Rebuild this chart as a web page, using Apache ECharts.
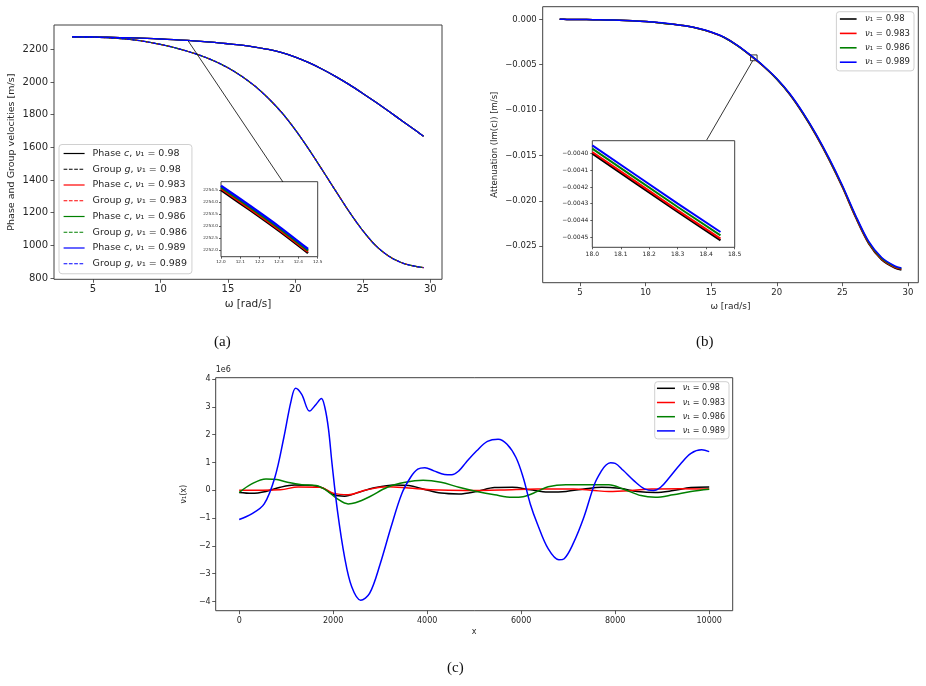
<!DOCTYPE html>
<html>
<head>
<meta charset="utf-8">
<script src="https://cdn.jsdelivr.net/npm/echarts@6/dist/echarts.min.js"></script>
<style>
  html, body { margin: 0; padding: 0; background: #fff; }
  #chart { width: 926px; height: 686px; }
</style>
</head>
<body>
<div id="chart"></div>
<script>
// (a) phase / group velocity vs omega (the four nu curves coincide at this scale)
var omega = [3.45, 4, 5, 6, 7, 8, 9, 10, 11, 12, 13, 14, 15, 16, 17, 18, 19, 20, 21, 22, 23, 24, 25, 26, 27, 28, 29, 29.5];
var phaseC = [2277, 2276.5, 2275.5, 2274, 2272, 2269.5, 2266.5, 2263, 2259, 2254.5, 2249, 2242, 2234, 2225, 2213, 2199, 2179, 2152, 2118, 2078, 2033, 1984, 1930, 1874, 1816, 1757, 1698, 1668];
var groupG = [2276, 2275.5, 2274, 2271, 2266, 2258, 2246, 2230, 2211, 2188, 2161, 2128, 2087, 2036, 1975, 1900, 1812, 1707, 1588, 1461, 1332, 1205, 1090, 995, 930, 890, 870, 864];

// (a) inset, zoom on phase c near omega = 12
var omegaInsetA = [12.0, 12.15, 12.3, 12.45];
var phaseInset98 = [2254.50, 2253.66, 2252.79, 2251.86];
var phaseInset983 = [2254.56, 2253.72, 2252.85, 2251.92];
var phaseInset986 = [2254.62, 2253.78, 2252.91, 2251.97];
var phaseInset989 = [2254.68, 2253.84, 2252.97, 2252.03];

// (b) attenuation Im(c)
var att98 = [0, -0.00001, -0.00002, -0.00004, -0.00007, -0.00011, -0.00017, -0.00025, -0.00037, -0.00053, -0.00072, -0.00100, -0.00142, -0.0020, -0.0029, -0.0040, -0.0052, -0.0066, -0.0083, -0.0104, -0.0128, -0.0155, -0.0185, -0.0218, -0.0247, -0.0265, -0.0274, -0.0276];
var att983 = [0, -0.00001, -0.00002, -0.00004, -0.00007, -0.00011, -0.00017, -0.00025, -0.00037, -0.00053, -0.00072, -0.00100, -0.00142, -0.0020, -0.0029, -0.00399, -0.00519, -0.00658, -0.00827, -0.01036, -0.01275, -0.01545, -0.01843, -0.02172, -0.02461, -0.02641, -0.02731, -0.02751];
var att986 = [0, -0.00001, -0.00002, -0.00004, -0.00007, -0.00011, -0.00017, -0.00025, -0.00037, -0.00053, -0.00072, -0.00100, -0.00141, -0.0020, -0.0029, -0.00398, -0.00517, -0.00656, -0.00824, -0.01032, -0.0127, -0.01539, -0.01836, -0.02164, -0.02453, -0.02633, -0.02724, -0.02745];
var att989 = [0, -0.00001, -0.00002, -0.00004, -0.00007, -0.00011, -0.00017, -0.00025, -0.00036, -0.00052, -0.00071, -0.00099, -0.00140, -0.00198, -0.00287, -0.00395, -0.00514, -0.00652, -0.0082, -0.01027, -0.01264, -0.01532, -0.01828, -0.02155, -0.02444, -0.02624, -0.02717, -0.0274];

// (b) inset, zoom near omega = 18
var omegaInsetB = [18.0, 18.15, 18.3, 18.45];
var attInset98 = [-0.00400, -0.004175, -0.00435, -0.00452];
var attInset983 = [-0.00399, -0.004165, -0.00434, -0.00451];
var attInset986 = [-0.00397, -0.004145, -0.00432, -0.00449];
var attInset989 = [-0.00395, -0.004125, -0.00430, -0.00447];

// (c) nu_1(x), values in units of 1e6
var nuX98 = [[0,-0.08],[266,-0.11],[570,-0.04],[874,0.11],[1178,0.19],[1558,0.17],[1786,0.08],[2014,-0.16],[2242,-0.21],[2546,-0.07],[2850,0.08],[3305,0.19],[3609,0.17],[3913,0.05],[4293,-0.10],[4673,-0.13],[5053,-0.04],[5433,0.10],[5813,0.11],[6193,0.02],[6573,-0.06],[6953,-0.04],[7333,0.05],[7713,0.11],[8093,0.07],[8473,-0.04],[8853,-0.08],[9233,-0.01],[9612,0.10],[10000,0.12]];
var nuX983 = [[0,0],[874,0.02],[1254,0.12],[1710,0.11],[2014,-0.11],[2318,-0.16],[2698,0.01],[3153,0.13],[3609,0.08],[4065,0.02],[4825,-0.01],[5585,0.01],[6345,0.05],[7105,0.05],[7561,-0.01],[7865,-0.04],[8321,-0.01],[8777,0.05],[9385,0.06],[10000,0.05]];
var nuX986 = [[0,-0.08],[266,0.23],[570,0.41],[798,0.39],[1026,0.29],[1330,0.2],[1634,0.17],[1862,-0.01],[2090,-0.31],[2318,-0.49],[2470,-0.45],[2774,-0.23],[3153,0.11],[3533,0.29],[3913,0.36],[4293,0.29],[4673,0.11],[5053,-0.04],[5433,-0.16],[5813,-0.25],[6041,-0.23],[6345,-0.04],[6573,0.13],[6953,0.2],[7333,0.2],[7865,0.2],[8169,0.05],[8549,-0.19],[8853,-0.25],[9233,-0.16],[9612,-0.04],[10000,0.04]];
var nuX989 = [[0,-1.05],[266,-0.85],[532,-0.49],[760,0.47],[950,1.9],[1102,3.2],[1200,3.67],[1330,3.45],[1497,2.85],[1634,3.09],[1748,3.3],[1824,2.97],[1900,2.2],[1976,0.94],[2090,-0.73],[2242,-2.4],[2394,-3.47],[2584,-3.95],[2774,-3.71],[3001,-2.64],[3229,-1.33],[3457,-0.13],[3647,0.47],[3799,0.76],[3951,0.81],[4141,0.70],[4369,0.57],[4521,0.56],[4673,0.70],[4825,1.0],[5053,1.42],[5281,1.76],[5509,1.84],[5699,1.66],[5889,1.18],[6041,0.47],[6193,-0.49],[6345,-1.21],[6573,-2.1],[6801,-2.5],[6915,-2.46],[7105,-1.92],[7333,-0.97],[7561,0.23],[7700,0.68],[7800,0.9],[7900,0.99],[8000,0.97],[8169,0.72],[8396,0.35],[8624,0.05],[8815,-0.01],[8967,0.11],[9157,0.47],[9385,0.94],[9612,1.33],[9840,1.46],[10000,1.39]];

// tick labels
var ticksA_x = [5, 10, 15, 20, 25, 30];
var ticksA_y = [800, 1000, 1200, 1400, 1600, 1800, 2000, 2200];
var ticksAi_x = [12.0, 12.1, 12.2, 12.3, 12.4, 12.5];
var ticksAi_y = [2252.0, 2252.5, 2253.0, 2253.5, 2254.0, 2254.5];
var ticksB_x = [5, 10, 15, 20, 25, 30];
var ticksB_y = [-0.025, -0.020, -0.015, -0.010, -0.005, 0];
var ticksBi_x = [18.0, 18.1, 18.2, 18.3, 18.4, 18.5];
var ticksBi_y = [-0.0045, -0.0044, -0.0043, -0.0042, -0.0041, -0.0040];
var ticksC_x = [0, 2000, 4000, 6000, 8000, 10000];
var ticksC_y = [-4, -3, -2, -1, 0, 1, 2, 3, 4];

var nus = ["0.98", "0.983", "0.986", "0.989"];
var colors = ["#000000", "#ff0000", "#008000", "#0000ff"];

var chart = echarts.init(document.getElementById("chart"), null, { renderer: "canvas" });

function zip(xs, ys) {
    return xs.map(function (x, i) { return [x, ys[i]]; });
}
function minus(s) {
    return String(s).replace("-", "\u2212");
}

function axis(gridIndex, min, max, ticks, decimals, fontSize, margin, extra) {
    var ax = {
        type: "value",
        gridIndex: gridIndex,
        min: min,
        max: max,
        splitLine: { show: false },
        axisLine: { show: false, onZero: false },
        axisTick: {
            show: true,
            length: fontSize < 7 ? 2 : 3.5,
            lineStyle: { color: "#333", width: 0.8 },
            customValues: ticks
        },
        axisLabel: {
            customValues: ticks,
            fontSize: fontSize,
            color: "#262626",
            fontFamily: "DejaVu Sans",
            margin: margin,
            formatter: function (v) { return minus(v.toFixed(decimals)); }
        }
    };
    return Object.assign(ax, extra || {});
}

function nameStyle(size) {
    return { fontSize: size, color: "#262626", fontFamily: "DejaVu Sans" };
}

function richLegend(size) {
    return {
        t: { fontFamily: "DejaVu Sans", color: "#262626", fontSize: size },
        i: { fontFamily: "DejaVu Sans", fontStyle: "italic", color: "#262626", fontSize: size }
    };
}

var series = [];
var namesA = [];
nus.forEach(function (nu, k) {
    var pn = "Phase c, \u03bd\u2081 = " + nu;
    var gn = "Group g, \u03bd\u2081 = " + nu;
    namesA.push(pn, gn);
    series.push({
        name: pn, type: "line", xAxisIndex: 0, yAxisIndex: 0,
        data: zip(omega, phaseC), smooth: 0.3, symbol: "none",
        lineStyle: { color: colors[k], width: 1.3 }, itemStyle: { color: colors[k] }
    });
    series.push({
        name: gn, type: "line", xAxisIndex: 0, yAxisIndex: 0,
        data: zip(omega, groupG), smooth: 0.3, symbol: "none",
        lineStyle: { color: colors[k], width: 1.2, type: [3.7, 1.6], dashOffset: k * 1.3 },
        itemStyle: { color: colors[k] }
    });
});
// arrow from inset to the zoomed spot on panel (a)
series[0].markLine = {
    silent: true, symbol: ["none", "arrow"], symbolSize: [0, 6],
    label: { show: false },
    lineStyle: { color: "#000", width: 0.8, type: "solid" },
    data: [[{ coord: [19.08, 1388] }, { coord: [12.05, 2252] }]]
};

var insetA = [phaseInset98, phaseInset983, phaseInset986, phaseInset989];
insetA.forEach(function (arr, k) {
    series.push({
        name: "inset a " + nus[k], type: "line", xAxisIndex: 1, yAxisIndex: 1,
        data: zip(omegaInsetA, arr), smooth: 0.3, symbol: "none",
        lineStyle: { color: colors[k], width: 2.4 }, itemStyle: { color: colors[k] }
    });
});

var namesB = nus.map(function (nu) { return "\u03bd\u2081 = " + nu; });
var attB = [att98, att983, att986, att989];
attB.forEach(function (arr, k) {
    series.push({
        name: namesB[k], type: "line", xAxisIndex: 2, yAxisIndex: 2,
        data: zip(omega, arr), smooth: 0.3, symbol: "none",
        lineStyle: { color: colors[k], width: 1.5 }, itemStyle: { color: colors[k] }
    });
});
var firstB = series.length - 4;
series[firstB].markArea = {
    silent: true,
    itemStyle: { color: "rgba(0,0,0,0)", borderColor: "#000", borderWidth: 0.8 },
    data: [[{ coord: [18.0, -0.00392] }, { coord: [18.5, -0.00456] }]]
};
series[firstB].markLine = {
    silent: true, symbol: ["none", "arrow"], symbolSize: [0, 6],
    label: { show: false },
    lineStyle: { color: "#000", width: 0.8, type: "solid" },
    data: [[{ coord: [14.66, -0.01329] }, { coord: [18.17, -0.00455] }]]
};

var insetB = [attInset98, attInset983, attInset986, attInset989];
insetB.forEach(function (arr, k) {
    series.push({
        name: "inset b " + nus[k], type: "line", xAxisIndex: 3, yAxisIndex: 3,
        data: zip(omegaInsetB, arr), symbol: "none",
        lineStyle: { color: colors[k], width: 2 }, itemStyle: { color: colors[k] }
    });
});

var nuC = [nuX98, nuX983, nuX986, nuX989];
nuC.forEach(function (arr, k) {
    series.push({
        name: namesB[k], type: "line", xAxisIndex: 4, yAxisIndex: 4,
        data: arr, smooth: 0.35, symbol: "none",
        lineStyle: { color: colors[k], width: 1.5 }, itemStyle: { color: colors[k] }
    });
});

var gridStyle = { show: true, borderColor: "#404040", borderWidth: 1, backgroundColor: "transparent" };
var legendBox = {
    orient: "vertical", selectedMode: false,
    backgroundColor: "rgba(255,255,255,0.8)", borderColor: "#d0d0d0", borderWidth: 1, borderRadius: 3,
    itemStyle: { opacity: 0 }
};

chart.setOption({
    animation: false,
    backgroundColor: "#fff",
    grid: [
        Object.assign({ left: 54, top: 25, width: 388, height: 254.3 }, gridStyle),
        Object.assign({ left: 221, top: 181.7, width: 96.7, height: 75 }, gridStyle),
        Object.assign({ left: 542.7, top: 6.7, width: 375.6, height: 276 }, gridStyle),
        Object.assign({ left: 592.3, top: 140.7, width: 142.4, height: 106.6 }, gridStyle),
        Object.assign({ left: 215.7, top: 377.7, width: 517, height: 233 }, gridStyle)
    ],
    xAxis: [
        axis(0, 2.11, 30.87, ticksA_x, 0, 10, 5, {
            name: "\u03c9 [rad/s]", nameLocation: "middle", nameGap: 19, nameTextStyle: nameStyle(10.5)
        }),
        axis(1, 12.0, 12.5, ticksAi_x, 1, 4.2, 3),
        axis(2, 2.156, 30.79, ticksB_x, 0, 8.5, 6, {
            name: "\u03c9 [rad/s]", nameLocation: "middle", nameGap: 19, nameTextStyle: nameStyle(9)
        }),
        axis(3, 18.0, 18.5, ticksBi_x, 1, 6, 4),
        axis(4, -500, 10500, ticksC_x, 0, 8, 6, {
            name: "x", nameLocation: "middle", nameGap: 17, nameTextStyle: nameStyle(8)
        })
    ],
    yAxis: [
        axis(0, 792.2, 2348.8, ticksA_y, 0, 10, 6, {
            name: "Phase and Group velocities [m/s]", nameLocation: "middle", nameRotate: 90,
            nameGap: 37, nameTextStyle: nameStyle(9.5)
        }),
        axis(1, 2251.71, 2254.85, ticksAi_y, 1, 4.2, 3),
        axis(2, -0.02901, 0.00139, ticksB_y, 3, 8.5, 6, {
            name: "Attenuation (Im(c)) [m/s]", nameLocation: "middle", nameRotate: 90,
            nameGap: 43, nameTextStyle: nameStyle(8.5)
        }),
        axis(3, -0.004562, -0.003922, ticksBi_y, 4, 6, 4),
        axis(4, -4.33, 4.05, ticksC_y, 0, 8, 5, {
            name: "\u03bd\u2081(x)", nameLocation: "middle", nameRotate: 90,
            nameGap: 22, nameTextStyle: nameStyle(8)
        })
    ],
    legend: [
        Object.assign({
            data: namesA, left: 59, top: 144.5,
            padding: [3, 5, 4, 4], itemWidth: 21, itemHeight: 12, itemGap: 3.75,
            lineStyle: { width: 1.2, dashOffset: 0 },
            textStyle: { fontSize: 9.5, lineHeight: 12, padding: [0, 0, 0, 3], rich: richLegend(9.5) },
            formatter: function (name) {
                var m = name.match(/^(Phase|Group) (c|g), \u03bd\u2081 = (.*)$/);
                return "{t|" + m[1] + " }{i|" + m[2] + "}{t|, }{i|\u03bd}{t|\u2081 = " + m[3] + "}";
            }
        }, legendBox),
        Object.assign({
            data: namesB, right: 926 - 914, top: 11.7,
            padding: [2.3, 4, 3.7, 2.7], itemWidth: 16.7, itemHeight: 10, itemGap: 4.4,
            lineStyle: { width: 1.6 },
            textStyle: { fontSize: 8.5, lineHeight: 10, padding: [0, 0, 0, 3.4], rich: richLegend(8.5) },
            formatter: function (name) { return "{i|\u03bd}{t|" + name.slice(1) + "}"; }
        }, legendBox),
        Object.assign({
            data: namesB, left: 654.7, top: 381.7,
            padding: [1.6, 4, 3, 1.5], itemWidth: 18, itemHeight: 10, itemGap: 4.2,
            lineStyle: { width: 1.5 },
            textStyle: { fontSize: 8, lineHeight: 10, padding: [0, 0, 0, 2.7], rich: richLegend(8) },
            formatter: function (name) { return "{i|\u03bd}{t|" + name.slice(1) + "}"; }
        }, legendBox)
    ],
    graphic: [
        { type: "text", left: 215.7, top: 366, style: { text: "1e6", fontSize: 8, fill: "#262626", fontFamily: "DejaVu Sans" } },
        { type: "text", left: 214, top: 335, style: { text: "(a)", fontSize: 15, fill: "#111", fontFamily: "Liberation Serif" } },
        { type: "text", left: 696, top: 335, style: { text: "(b)", fontSize: 15, fill: "#111", fontFamily: "Liberation Serif" } },
        { type: "text", left: 447, top: 661, style: { text: "(c)", fontSize: 15, fill: "#111", fontFamily: "Liberation Serif" } }
    ],
    series: series
});
</script>
</body>
</html>
